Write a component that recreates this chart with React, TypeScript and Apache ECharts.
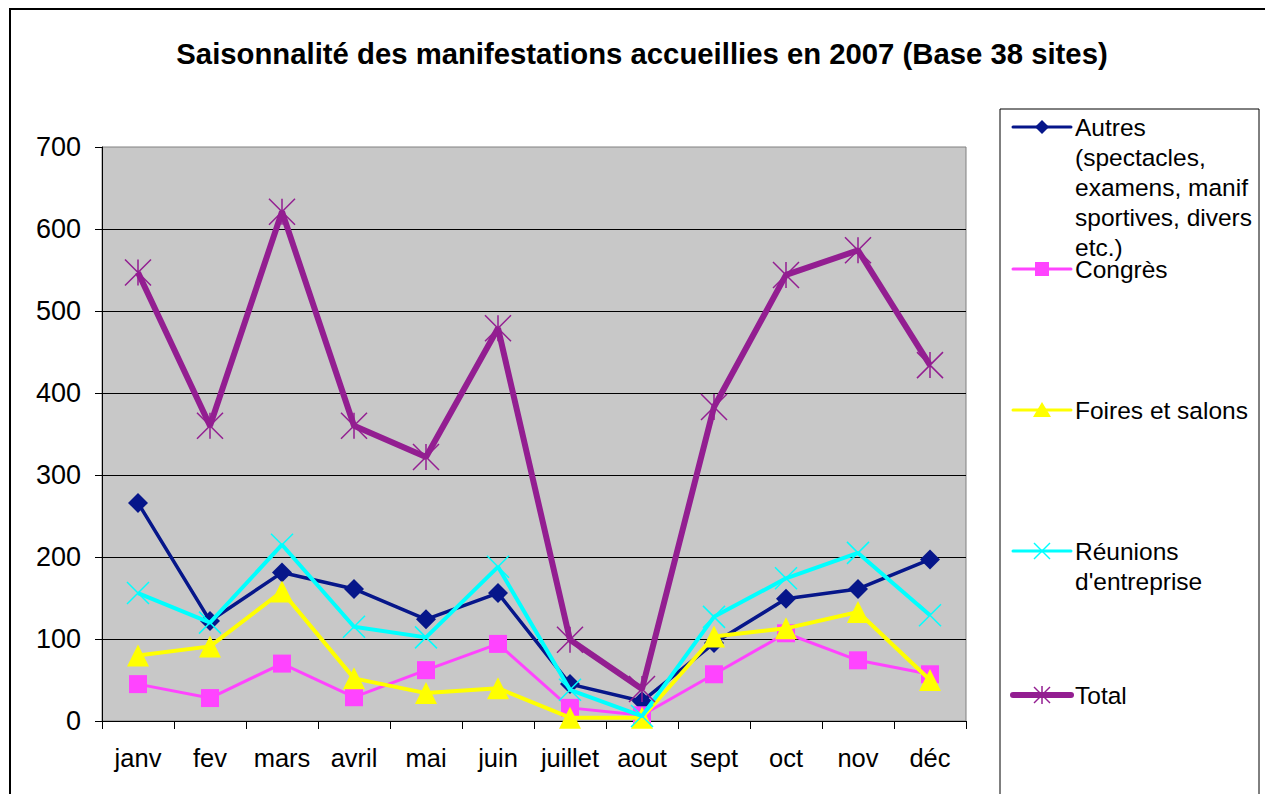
import React, { useEffect, useRef } from "react";
import * as echarts from "echarts";

const TITLE = "Saisonnalité des manifestations accueillies en 2007 (Base 38 sites)";
const months = ["janv", "fev", "mars", "avril", "mai", "juin", "juillet", "aout", "sept", "oct", "nov", "déc"];
const yTicks = [0, 100, 200, 300, 400, 500, 600, 700];

const autres = [266, 122, 181, 161, 124, 156, 45, 24, 95, 149, 161, 197];
const congres = [45, 28, 70, 29, 62, 94, 16, 7, 57, 107, 74, 57];
const foires = [80, 91, 158, 52, 34, 40, 4, 4, 103, 113, 133, 50];
const reunions = [156, 120, 215, 115, 102, 188, 38, 6, 127, 174, 205, 129];
const total = [547, 360, 621, 360, 322, 479, 99, 39, 383, 544, 574, 434];

const seriesNames = [
  "Autres\n(spectacles,\nexamens, manif\nsportives, divers\netc.)",
  "Congrès",
  "Foires et salons",
  "Réunions\nd'entreprise",
  "Total",
];
const seriesColors = ["#06168A", "#FF44FF", "#FFFF00", "#00FFFF", "#931E91"];

const FONT = "'Liberation Sans', Arial, sans-serif";
const X_PATH = "path://M0,0L10,10M10,0L0,10";
const AST_PATH = "path://M0,0L10,10M10,0L0,10M5,0L5,10";

function legendMarker(i: number, cx: number, color: string): any {
  if (i === 0) {
    return { type: "polygon", shape: { points: [[cx, -7], [cx + 7, 0], [cx, 7], [cx - 7, 0]] }, style: { fill: color } };
  }
  if (i === 1) {
    return { type: "rect", shape: { x: cx - 7, y: -7, width: 14, height: 14 }, style: { fill: color } };
  }
  if (i === 2) {
    return { type: "polygon", shape: { points: [[cx, -8], [cx + 9, 7], [cx - 9, 7]] }, style: { fill: color } };
  }
  if (i === 3) {
    return {
      type: "group",
      children: [
        { type: "line", shape: { x1: cx - 8, y1: -8, x2: cx + 8, y2: 8 }, style: { stroke: color, lineWidth: 1.5 } },
        { type: "line", shape: { x1: cx + 8, y1: -8, x2: cx - 8, y2: 8 }, style: { stroke: color, lineWidth: 1.5 } },
      ],
    };
  }
  return {
    type: "group",
    children: [
      { type: "line", shape: { x1: cx - 8, y1: -8, x2: cx + 8, y2: 8 }, style: { stroke: color, lineWidth: 1.5 } },
      { type: "line", shape: { x1: cx + 8, y1: -8, x2: cx - 8, y2: 8 }, style: { stroke: color, lineWidth: 1.5 } },
      { type: "line", shape: { x1: cx, y1: -9, x2: cx, y2: 9 }, style: { stroke: color, lineWidth: 1.5 } },
    ],
  };
}

export default function App() {
  const ref = useRef<HTMLDivElement>(null);

  useEffect(() => {
    if (!ref.current) return;
    const chart = echarts.init(ref.current, undefined, { renderer: "svg" });

    const legendYs = [127, 269, 410, 551, 695];
    const legendLineW = [3, 3, 3, 3, 6];
    const legendGraphics: any[] = seriesNames.map((name, i) => {
      const multi = name.indexOf("\n") >= 0;
      return {
        type: "group",
        x: 1013,
        y: legendYs[i],
        children: [
          { type: "line", shape: { x1: 0, y1: 0, x2: 58, y2: 0 }, style: { stroke: seriesColors[i], lineWidth: legendLineW[i], lineCap: "round" } },
          legendMarker(i, 29, seriesColors[i]),
          {
            type: "text",
            x: 62,
            y: multi ? -15 : 0,
            style: {
              text: name,
              fontSize: 24.5,
              fontFamily: FONT,
              fill: "#000",
              lineHeight: 30,
              verticalAlign: multi ? "top" : "middle",
              align: "left",
            },
          },
        ],
      };
    });

    const sizes = [20, 18, 22, 22, 26];
    const symbols = ["diamond", "rect", "triangle", X_PATH, AST_PATH];
    const widths = [3.5, 3, 4, 4, 6];
    const datas = [autres, congres, foires, reunions, total];

    const option: any = {
      animation: false,
      backgroundColor: "#fff",
      title: {
        text: TITLE,
        left: 637,
        top: 34,
        textAlign: "center",
        textStyle: { fontSize: 29.3, fontWeight: "bold", fontFamily: FONT, color: "#000" },
      },
      grid: {
        left: 102,
        top: 147,
        right: 299,
        bottom: 73,
        show: true,
        backgroundColor: "#C8C8C8",
        borderColor: "#808080",
        borderWidth: 1,
      },
      xAxis: {
        type: "category",
        data: months,
        boundaryGap: true,
        axisLine: { lineStyle: { color: "#000", width: 1 } },
        axisTick: { show: true, length: 8, interval: 0, lineStyle: { color: "#000" } },
        axisLabel: { fontSize: 25.5, fontFamily: FONT, color: "#000", margin: 24, interval: 0, hideOverlap: false },
      },
      yAxis: {
        type: "value",
        min: yTicks[0],
        max: yTicks[yTicks.length - 1],
        interval: 100,
        axisLine: { show: true, lineStyle: { color: "#000", width: 1 } },
        axisTick: { show: true, length: 7, lineStyle: { color: "#000" } },
        axisLabel: { fontSize: 27, fontFamily: FONT, color: "#000", margin: 21 },
        splitLine: { show: true, showMaxLine: false, showMinLine: false, lineStyle: { color: "#000", width: 1 } },
      },
      series: datas.map((d, i) => ({
        type: "line",
        name: seriesNames[i],
        data: d,
        symbol: symbols[i],
        symbolSize: sizes[i],
        showAllSymbol: true,
        z: 2 + i,
        lineStyle: { color: seriesColors[i], width: widths[i] },
        itemStyle: {
          color: seriesColors[i],
          borderColor: seriesColors[i],
          borderWidth: i >= 3 ? 1.5 : 0,
          opacity: 1,
        },
      })),
      graphic: [
        { type: "rect", shape: { x: 10, y: 9, width: 1400, height: 1000 }, style: { fill: "none", stroke: "#000", lineWidth: 2 }, silent: true },
        { type: "rect", shape: { x: 1000, y: 109, width: 259, height: 800 }, style: { fill: "none", stroke: "#000", lineWidth: 1 }, silent: true },
        ...legendGraphics,
      ],
    };

    chart.setOption(option);
    return () => chart.dispose();
  }, []);

  return (
    <div
      ref={ref}
      style={{ position: "fixed", left: 0, top: 0, width: 1265, height: 794, background: "#fff" }}
    />
  );
}
